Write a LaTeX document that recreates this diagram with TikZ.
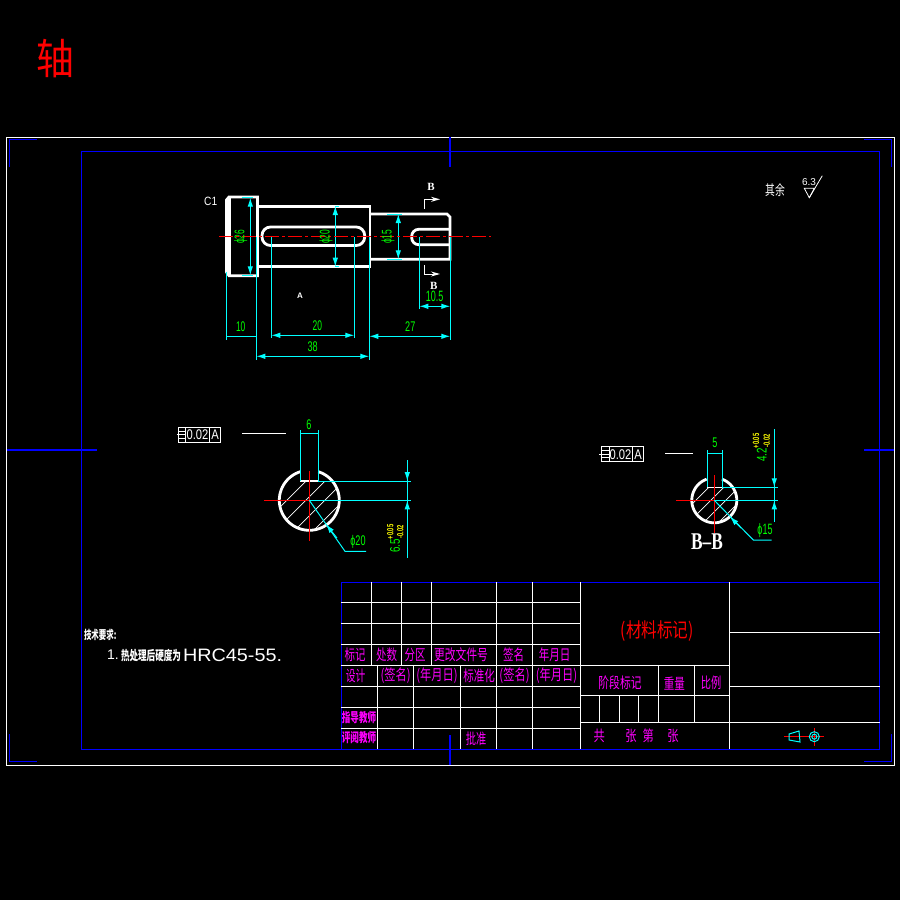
\documentclass[tikz,border=0pt]{standalone}
\usepackage{graphicx}
\usepackage{fontspec}
\setmainfont{Liberation Sans}
\newfontfamily\cjk{Noto Sans CJK SC}
\newfontfamily\serifb{Liberation Serif}
\usetikzlibrary{arrows.meta}
\definecolor{cadcyan}{RGB}{0,255,255}
\definecolor{cadgreen}{RGB}{0,255,0}
\definecolor{cadmag}{RGB}{255,0,255}
\definecolor{cadblue}{RGB}{0,0,255}
\definecolor{cadred}{RGB}{255,0,0}
\definecolor{cadyel}{RGB}{255,255,0}
\tikzset{
 part/.style={draw=white,line width=2.8pt,line join=miter},
 thinw/.style={draw=white,line width=1pt},
 dimln/.style={draw=cadcyan,line width=1pt},
 dimarr/.style={draw=cadcyan,line width=1pt,{Latex[length=9pt,width=5.5pt]}-{Latex[length=9pt,width=5.5pt]}},
 onearr/.style={draw=cadcyan,line width=1pt,-{Latex[length=9pt,width=5.5pt]}},
 bluel/.style={draw=cadblue,line width=1.1pt},
 redl/.style={draw=cadred,line width=1pt},
 centerl/.style={draw=cadred,line width=1.2pt,dash pattern=on 14pt off 3pt on 3pt off 3pt},
 grid/.style={draw=white,line width=1pt},
 hatchl/.style={draw=white,line width=0.7pt},
 lab/.style={inner sep=0pt,outer sep=0pt,font=\fontsize{14}{14}\selectfont},
 dimt/.style={lab,text=cadgreen},
 yelt/.style={inner sep=0pt,outer sep=0pt,text=cadyel,font=\fontsize{9}{9}\selectfont\bfseries},
 magt/.style={lab,text=cadmag,font=\fontsize{15}{15}\selectfont},
 magb/.style={lab,text=cadmag,font=\fontsize{13}{13}\selectfont\bfseries},
 whitet/.style={lab,text=white}
}
\newcommand{\Nx}[2]{\scalebox{#1}[1]{#2}}
\newcommand{\Cj}[2]{\scalebox{#1}[1]{\cjk #2}}
\begin{document}
\begin{tikzpicture}[x=1pt,y=-1pt]
\useasboundingbox (0,0) rectangle (900,900);
\fill[black] (0,0) rectangle (900,900);
% title
\node[lab,text=cadred,font=\fontsize{42}{42}\selectfont] (title) at (55.5,59) {\Cj{0.9}{轴}};
% frames
\draw[draw=white,line width=0.9pt] (6.5,137) rectangle (894,765);
\draw[bluel] (81.3,151.3) rectangle (879.7,749.4);
\draw[bluel] (341.3,749.4) -- (341.3,582.3) -- (879.7,582.3);
\draw[bluel] (9.3,166.7) -- (9.3,139.3) -- (36.7,139.3);
\draw[bluel] (864,139.3) -- (891.7,139.3) -- (891.7,166.7);
\draw[bluel] (9.3,734) -- (9.3,761.3) -- (36.7,761.3);
\draw[bluel] (864,761.3) -- (891.7,761.3) -- (891.7,734);
\draw[bluel] (450,137) -- (450,167);
\draw[bluel] (7,450) -- (97,450);
\draw[bluel] (864,450) -- (894,450);
% shaft
\draw[part] (229,197) -- (257.5,197) -- (257.5,275.7) -- (229,275.7) -- (226.5,272) -- (226.5,200) -- cycle;
\draw[part] (229.5,197) -- (229.5,275.7);
\draw[part] (257.5,206.5) -- (370,206.5) -- (370,266.2) -- (257.5,266.2);
\draw[part] (370,214) -- (447,214) -- (450,217) -- (450,259.3) -- (370,259.3);
\draw[part,rounded corners=8.5pt] (262,227) rectangle (364.7,245.5);
\draw[part,rounded corners=7pt] (450,229.3) -- (411.7,229.3) -- (411.7,244.7) -- (450,244.7);
% section marks
\draw[thinw] (424.3,209) -- (424.3,199.3);
\draw[thinw,-{Stealth[length=9pt,width=5pt]}] (424.3,199.3) -- (440,199.3);
\draw[thinw] (424.3,265) -- (424.3,274);
\draw[thinw,-{Stealth[length=9pt,width=5pt]}] (424.3,274) -- (440,274);
\node[whitet,font=\fontsize{11}{11}\selectfont\bfseries] (b1) at (431,187.3) {\serifb\bfseries B};
\node[whitet,font=\fontsize{11}{11}\selectfont\bfseries] (b2) at (433.7,285.7) {\serifb\bfseries B};
\node[whitet,font=\fontsize{12}{12}\selectfont] (c1) at (210.7,201) {\Nx{0.85}{C1}};
\node[whitet,font=\fontsize{8}{8}\selectfont\bfseries] (a1) at (300,295.3) {A};
% dimension extension
\draw[dimln] (226,271.7) -- (226,340);
\draw[dimln] (256.3,236.7) -- (256.3,360);
\draw[dimln] (271.3,236.7) -- (271.3,338.3);
\draw[dimln] (354.3,236.7) -- (354.3,338.3);
\draw[dimln] (369.3,236.7) -- (369.3,360);
\draw[dimln] (450.3,236.7) -- (450.3,340);
\draw[dimln] (419.3,236.7) -- (419.3,309.3);
\draw[dimln] (226,336.3) -- (256.3,336.3);
\draw[dimarr] (271.3,335.3) -- (354.3,335.3);
\draw[dimarr] (256.3,356.3) -- (369.3,356.3);
\draw[dimarr] (369.3,336.3) -- (450.3,336.3);
\draw[dimarr] (419.3,306.3) -- (450.3,306.3);
\draw[dimarr] (250.3,197.7) -- (250.3,275.3);
\draw[dimarr] (335.3,206) -- (335.3,266.7);
\draw[dimarr] (398.3,214) -- (398.3,259.3);
\draw[dimln] (241.7,197.7) -- (253.3,197.7);
\draw[dimln] (241.7,275.3) -- (253.3,275.3);
\draw[dimln] (335,206) -- (339,206);
\draw[dimln] (335,266.7) -- (339,266.7);
\draw[dimln] (387,214) -- (401.7,214);
\draw[dimln] (387,259.3) -- (401.7,259.3);
\draw[centerl] (219,236.5) -- (491,236.5);
\node[dimt] (d10) at (240.7,326.7) {\Nx{0.6}{10}};
\node[dimt] (d20) at (317.3,326) {\Nx{0.6}{20}};
\node[dimt] (d38) at (312.7,347) {\Nx{0.65}{38}};
\node[dimt] (d27) at (410.3,326.7) {\Nx{0.65}{27}};
\node[dimt,font=\fontsize{15}{15}\selectfont] (d105) at (434.7,296.7) {\Nx{0.6}{10.5}};
\node[dimt,rotate=90] (p26) at (240.7,236.7) {\Nx{0.6}{ϕ26}};
\node[dimt,rotate=90] (p28) at (326,236.7) {\Nx{0.6}{ϕ20}};
\node[dimt,rotate=90] (p15) at (388,236.7) {\Nx{0.6}{ϕ15}};
% roughness
\node[whitet] (qy) at (775,190.5) {\Cj{0.7}{其余}};
\node[whitet,font=\fontsize{10}{10}\selectfont] (r63) at (809,181.7) {6.3};
\draw[draw=white,line width=0.8pt] (804.3,188.3) -- (814.3,188.3) -- (809.3,197.7) -- cycle;
\draw[draw=white,line width=0.8pt] (809.3,197.7) -- (822.3,175.7);
% section A
\begin{scope}
\clip plot[domain=0:360,samples=90] ({309.3+30*cos(\x)},{500.3+30*sin(\x)}) -- cycle;
\clip (278,482) rectangle (340,532);
\foreach \s in {787,806,825,844}{\draw[hatchl] (\s-500.3-40,540.3) -- (\s-500.3+60,440.3);}
\end{scope}
\draw[part] plot[domain=-72.5:252.5,samples=70] ({309.3+30*cos(\x)},{500.3+30*sin(\x)});
\draw[part,line width=1.6pt] (300.3,471.7) -- (300.3,481) -- (318.3,481) -- (318.3,471.7);
\draw[dimln] (300.3,430) -- (300.3,481);
\draw[dimln] (318.3,430) -- (318.3,481);
\draw[dimln] (300.3,433.3) -- (318.3,433.3);
\draw[dimln] (318.3,481) -- (410.7,481);
\draw[dimln] (309.3,500.3) -- (410.7,500.3);
\draw[dimln] (407.3,460) -- (407.3,557.7);
\draw[onearr] (407.3,462) -- (407.3,481);
\draw[onearr] (407.3,520) -- (407.3,500.3);
\draw[redl] (264,500.3) -- (309.3,500.3);
\draw[redl] (309.3,471) -- (309.3,540.7);
\draw[dimln] (309.3,500.3) -- (345,551.3) -- (366,551.3);
\draw[onearr] (337,538) -- (326,524.3);
\node[dimt] (d6) at (309,424.3) {\Nx{0.65}{6}};
\node[dimt] (p20) at (358,541.7) {\Nx{0.65}{ϕ20}};
\node[dimt,rotate=90] (t65) at (395,546) {\Nx{0.7}{6.5}};
\node[yelt,rotate=90] (t65a) at (390.3,532) {\Nx{0.65}{+0.05}};
\node[yelt,rotate=90] (t65b) at (400.3,532) {\Nx{0.65}{-0.02}};
% tolerance A
\draw[thinw] (178.3,427.3) rectangle (220.7,442.3);
\draw[thinw] (185.7,427.3) -- (185.7,442.3);
\draw[thinw] (209.3,427.3) -- (209.3,442.3);
\draw[thinw] (176.5,434) -- (185.7,434);
\draw[thinw] (178.3,431) -- (185.7,431);
\draw[thinw] (178.3,438) -- (185.7,438);
\draw[thinw] (242,433.3) -- (285.7,433.3);
\node[whitet] (tol1) at (197.5,434.8) {\Nx{0.8}{0.02}};
\node[whitet] (tolA1) at (215,434.8) {\Nx{0.8}{A}};
% section B
\begin{scope}
\clip plot[domain=0:360,samples=90] ({714.3+22.5*cos(\x)},{500.3+22.5*sin(\x)}) -- cycle;
\clip (690,487.3) rectangle (740,530);
\foreach \s in {1196,1211,1226,1241}{\draw[hatchl] (\s-500.3-40,540.3) -- (\s-500.3+60,440.3);}
\end{scope}
\draw[part] plot[domain=-70:250,samples=70] ({714.3+22.5*cos(\x)},{500.3+22.5*sin(\x)});
\draw[part,line width=1.6pt] (707.3,479) -- (707.3,487.3) -- (722.3,487.3) -- (722.3,479);
\draw[dimln] (707.3,450) -- (707.3,487.3);
\draw[dimln] (722.3,450) -- (722.3,487.3);
\draw[dimln] (707.3,453.3) -- (722.3,453.3);
\draw[dimln] (722.3,487.3) -- (777.7,487.3);
\draw[dimln] (714.3,500.3) -- (777.7,500.3);
\draw[dimln] (774.3,429) -- (774.3,521.7);
\draw[onearr] (774.3,470) -- (774.3,487.3);
\draw[onearr] (774.3,518) -- (774.3,500.3);
\draw[redl] (676,500.3) -- (714.3,500.3);
\draw[redl] (714.3,475) -- (714.3,533);
\draw[dimln] (714.3,500.3) -- (753.3,540) -- (771.7,540);
\draw[onearr] (741,528) -- (730,516.7);
\node[dimt] (d5) at (715,443) {\Nx{0.65}{5}};
\node[dimt,font=\fontsize{15}{15}\selectfont] (p15b) at (765,530.7) {\Nx{0.6}{ϕ15}};
\node[dimt,rotate=90] (t42) at (761.7,455) {\Nx{0.7}{4.2}};
\node[yelt,rotate=90] (t42a) at (756,441) {\Nx{0.65}{+0.05}};
\node[yelt,rotate=90] (t42b) at (766.7,441) {\Nx{0.65}{-0.02}};
\node[whitet,font=\fontsize{24}{24}\selectfont\bfseries] (bb) at (707,542) {\serifb\bfseries\Nx{0.72}{B–B}};
% tolerance B
\draw[thinw] (601,446.3) rectangle (643.3,461.7);
\draw[thinw] (609,446.3) -- (609,461.7);
\draw[thinw] (632.7,446.3) -- (632.7,461.7);
\draw[thinw] (599,454) -- (609,454);
\draw[thinw] (601,450.3) -- (609,450.3);
\draw[thinw] (601,457.7) -- (609,457.7);
\draw[thinw] (665,453.3) -- (692.7,453.3);
\node[whitet] (tol2) at (620.5,454.3) {\Nx{0.8}{0.02}};
\node[whitet] (tolA2) at (638,454.3) {\Nx{0.8}{A}};
% table grid
\foreach \y in {602.3,623.3,644.3,665.3,686.3,707.3,728.3}{\draw[grid] (341.3,\y) -- (580.3,\y);}
\foreach \x in {371.7,401.7,431.7}{\draw[grid] (\x,582.3) -- (\x,665.3);}
\foreach \x in {377.7,413.7,460.7}{\draw[grid] (\x,665.3) -- (\x,749.4);}
\foreach \x in {496.7,532.3,580.3,729.3}{\draw[grid] (\x,582.3) -- (\x,749.4);}
\draw[grid] (729.3,632.3) -- (879.7,632.3);
\draw[grid] (729.3,686.3) -- (879.7,686.3);
\draw[grid] (580.3,722.3) -- (879.7,722.3);
\draw[grid] (580.3,665.3) -- (729.3,665.3);
\draw[grid] (580.3,695.3) -- (729.3,695.3);
\foreach \x in {658.3,694.3}{\draw[grid] (\x,665.3) -- (\x,722.3);}
\foreach \x in {599.3,619.3,638.3}{\draw[grid] (\x,695.3) -- (\x,722.3);}
\draw[bluel] (450,735) -- (450,765);
% table text
\node[magt] (m1) at (355,654.5) {\Cj{0.7}{标记}};
\node[magt] (m2) at (386.5,654.5) {\Cj{0.7}{处数}};
\node[magt] (m3) at (415,654.5) {\Cj{0.7}{分区}};
\node[magt] (m4) at (461,654.5) {\Cj{0.72}{更改文件号}};
\node[magt] (m5) at (513.5,655) {\Cj{0.7}{签名}};
\node[magt] (m6) at (554.5,655) {\Cj{0.7}{年月日}};
\node[magt] (m7) at (355.5,676) {\Cj{0.65}{设计}};
\node[magt] (m8) at (395.7,676) {\Cj{0.75}{(签名)}};
\node[magt] (m9) at (437,676) {\Cj{0.75}{(年月日)}};
\node[magt] (m10) at (479,676) {\Cj{0.7}{标准化}};
\node[magt] (m11) at (514.5,676) {\Cj{0.75}{(签名)}};
\node[magt] (m12) at (556.5,676) {\Cj{0.75}{(年月日)}};
\node[magb] (m13) at (359,717.7) {\Cj{0.66}{指导教师}};
\node[magb] (m14) at (359,738) {\Cj{0.66}{评阅教师}};
\node[magt] (m15) at (476,739) {\Cj{0.68}{批准}};
\node[lab,text=cadred,font=\fontsize{20}{20}\selectfont] (mat) at (657.3,631) {\Cj{0.78}{(材料标记)}};
\node[magt] (n1) at (620,682.7) {\Cj{0.72}{阶段标记}};
\node[magt] (n2) at (674.3,683.3) {\Cj{0.7}{重量}};
\node[magt] (n3) at (711,683.3) {\Cj{0.68}{比例}};
\node[magt] (n4) at (599.3,735.7) {\Cj{0.75}{共}};
\node[magt] (n5) at (631,735.7) {\Cj{0.75}{张}};
\node[magt] (n6) at (648.3,735.7) {\Cj{0.75}{第}};
\node[magt] (n7) at (673,735.7) {\Cj{0.75}{张}};
% projection symbol
\draw[redl] (784,736.7) -- (806,736.7);
\draw[redl] (805,736.7) -- (824,736.7);
\draw[redl] (814.3,728) -- (814.3,745.7);
\draw[dimln] (789,734) -- (799,731) -- (800,742) -- (789,740) -- cycle;
\draw[dimln] (814.3,736.7) circle[radius=5];
\draw[dimln] (814.3,736.7) circle[radius=2.5];
% notes
\node[whitet,anchor=west,font=\fontsize{12}{12}\selectfont\bfseries] (tech) at (84,635) {\Cj{0.62}{技术要求:}};
\node[whitet,anchor=west,font=\fontsize{14}{14}\selectfont] (n11) at (107,655) {1.};
\node[whitet,anchor=west,font=\fontsize{13}{13}\selectfont\bfseries] (n12) at (121,655.5) {\Cj{0.66}{热处理后硬度为}};
\node[whitet,anchor=west,font=\fontsize{18}{18}\selectfont] (n13) at (183,655) {\Nx{1.1}{HRC45-55.}};
\end{tikzpicture}
\end{document}
